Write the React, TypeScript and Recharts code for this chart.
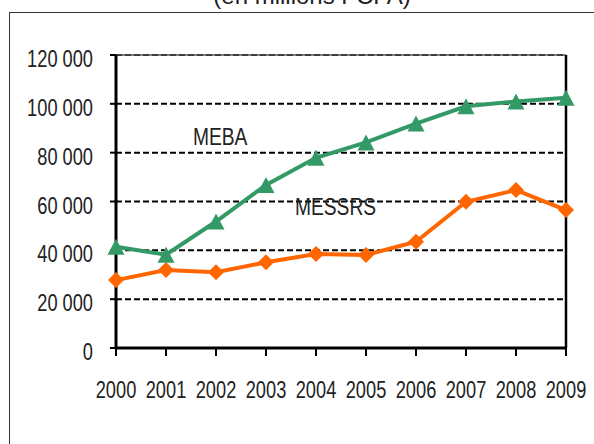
import React from 'react';
import { LineChart, Line, XAxis, YAxis, CartesianGrid, ReferenceLine } from 'recharts';

const years = ['2000', '2001', '2002', '2003', '2004', '2005', '2006', '2007', '2008', '2009'];
const meba = [41500, 38200, 51800, 66800, 77900, 84200, 91900, 99000, 101000, 102500];
const messrs = [27800, 31900, 31000, 35100, 38500, 38100, 43500, 59900, 64700, 56500];
const yTicks = [0, 20000, 40000, 60000, 80000, 100000, 120000];

const GREEN = '#339966';
const ORANGE = '#FF6600';
const FONT = "'Liberation Sans', Arial, sans-serif";
const FS = 24;
const SX = 0.76; // the source uses a narrow font; squeeze Liberation Sans to match
const SX_LABEL = 0.8;

const data = years.map((y, i) => ({ year: y, MEBA: meba[i], MESSRS: messrs[i] }));

const fmt = (v: number) => (v >= 1000 ? `${Math.floor(v / 1000)} ${String(v % 1000).padStart(3, '0')}` : String(v));

const XTick = (props: any) => {
  const { x, y, payload } = props;
  return (
    <text transform={`translate(${x},${y}) scale(${SX},1)`} textAnchor="middle" dy="0.72em" fill="#222" fontSize={FS} fontFamily={FONT}>
      {payload.value}
    </text>
  );
};

const YTick = (props: any) => {
  const { x, y, payload } = props;
  return (
    <text transform={`translate(${x},${y}) scale(${SX},1)`} textAnchor="end" dy="0.5em" fill="#222" fontSize={FS} fontFamily={FONT}>
      {fmt(payload.value)}
    </text>
  );
};

const Triangle = (props: any) => {
  const { cx, cy, index } = props;
  if (cx == null || cy == null) return null;
  const w = 8.5, h = 8;
  return (
    <polygon
      key={`t-${index}`}
      points={`${cx},${cy - h} ${cx + w},${cy + h} ${cx - w},${cy + h}`}
      fill={GREEN}
    />
  );
};

const Diamond = (props: any) => {
  const { cx, cy, index } = props;
  if (cx == null || cy == null) return null;
  const r = 8;
  return (
    <polygon
      key={`d-${index}`}
      points={`${cx},${cy - r} ${cx + r},${cy} ${cx},${cy + r} ${cx - r},${cy}`}
      fill={ORANGE}
    />
  );
};

const squeeze: React.CSSProperties = { transform: `scaleX(${SX_LABEL})`, transformOrigin: 'left top', whiteSpace: 'nowrap' };

export default function App() {
  return (
    <div style={{ position: 'fixed', left: 0, top: 0, width: 594, height: 444, background: '#fff', overflow: 'hidden', fontFamily: FONT, color: '#222' }}>
      {/* title, cut off by the top edge as in the source */}
      <div style={{ position: 'absolute', left: 0, width: 594, top: -16, textAlign: 'center', fontSize: FS, lineHeight: '24px', paddingLeft: 30, boxSizing: 'border-box', whiteSpace: 'nowrap' }}>
        (en millions FCFA)
      </div>
      {/* outer frame, runs past the right and bottom edges */}
      <div style={{ position: 'absolute', left: 9, top: 12, width: 640, height: 480, border: '1.5px solid #333' }} />
      <div style={{ position: 'absolute', left: 0, top: 0 }}>
        <LineChart width={594} height={444} data={data} margin={{ top: 55, right: 28, bottom: 66, left: 56 }}>
          <CartesianGrid vertical={false} stroke="#000" strokeWidth={2} strokeDasharray="6 3" />
          <XAxis
            dataKey="year"
            height={30}
            axisLine={{ stroke: '#000', strokeWidth: 3 }}
            tickLine={{ stroke: '#000', strokeWidth: 2 }}
            tickSize={8}
            tickMargin={25}
            interval={0}
            tick={<XTick />}
          />
          <YAxis
            width={60}
            domain={[0, 120000]}
            ticks={yTicks}
            axisLine={{ stroke: '#000', strokeWidth: 3 }}
            tickLine={{ stroke: '#000', strokeWidth: 2 }}
            tickSize={6}
            tickMargin={17}
            tick={<YTick />}
          />
          <ReferenceLine y={120000} stroke="#555" strokeWidth={1.5} />
          <ReferenceLine x="2009" stroke="#000" strokeWidth={2.5} />
          <Line dataKey="MESSRS" stroke={ORANGE} strokeWidth={4} dot={Diamond} activeDot={false} isAnimationActive={false} />
          <Line dataKey="MEBA" stroke={GREEN} strokeWidth={4} dot={Triangle} activeDot={false} isAnimationActive={false} />
        </LineChart>
      </div>
      <div style={{ position: 'absolute', left: 193, top: 124, fontSize: FS, lineHeight: '26px', ...squeeze }}>MEBA</div>
      <div style={{ position: 'absolute', left: 295, top: 194, fontSize: FS, lineHeight: '26px', ...squeeze }}>MESSRS</div>
    </div>
  );
}
